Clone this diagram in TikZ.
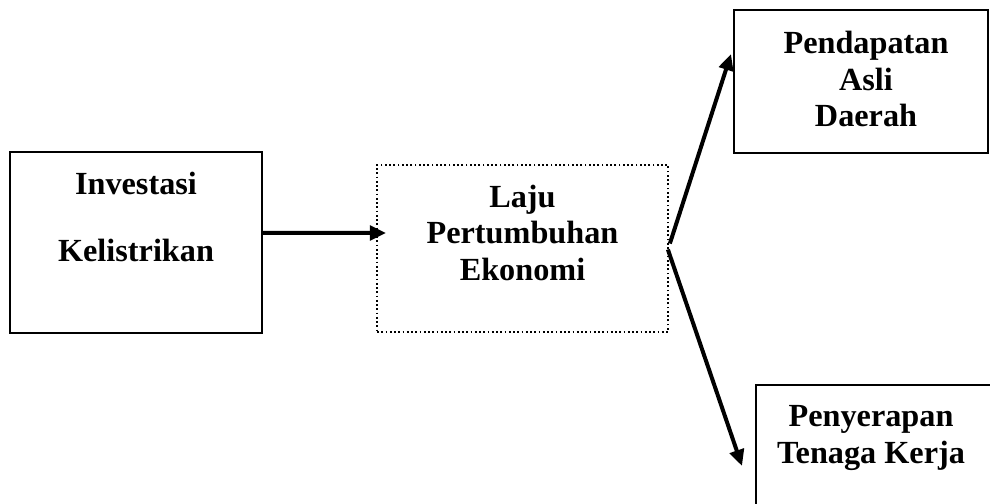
\documentclass[tikz,border=0pt]{standalone}
\usepackage{fontspec}
\setmainfont{Liberation Serif}
\usepackage{tikz}
\usetikzlibrary{positioning}
\usetikzlibrary{calc}
\usetikzlibrary{arrows.meta}
\tikzset{
    solid box/.style = {draw, line width=0.8pt, inner sep=0},
    dotted box/.style = {draw, densely dotted, line width=0.7pt, inner sep=0},
    box text/.style = {align=center, inner sep=0, font=\fontsize{12.9}{14.6}\selectfont\bfseries},
    thick arrow/.style = {line width=1.6pt, -{Triangle[length=6.5pt,width=5.8pt]}}
}
\begin{document}
\begin{tikzpicture}[x=0.4pt,y=-0.4pt]
    \useasboundingbox (0,0) rectangle (990,504);
    \clip (0,0) rectangle (990,504);
    % boxes
    \node(inv)[solid box, minimum width=100.8pt, minimum height=72.4pt] at (136,242.5) {};
    \node(laju)[dotted box, minimum width=116.4pt, minimum height=66.8pt] at (522.5,248.5) {};
    \node(pad)[solid box, minimum width=101.6pt, minimum height=57.2pt] at (861,81.5) {};
    \node(pen)[solid box, minimum width=97.6pt, minimum height=54pt] at (878,452.5) {};
    % texts
    \node(invtext)[box text, below=8.2pt of inv.north] {Investasi\\[12.2pt]Kelistrikan};
    \node(lajutext)[box text, below=8.2pt of laju.north] {Laju\\Pertumbuhan\\Ekonomi};
    \node(padtext)[box text, below=8.8pt of pad.north, xshift=2pt] {Pendapatan\\Asli\\Daerah};
    \node(pentext)[box text, below=8.4pt of pen.north, xshift=-2.8pt] {Penyerapan\\Tenaga Kerja};
    % arrows
    \coordinate(fork) at (laju.east);
    \draw[thick arrow] ([yshift=3.8pt]inv.east) -- ([xshift=4pt,yshift=6.2pt]laju.west);
    \draw[thick arrow] ($(fork)+(1,-5)$) -- ($(pad.north west)+(-2,45)$);
    \draw[thick arrow] ($(fork)+(-1,1)$) -- ($(pen.north west)+(-13,82)$);
\end{tikzpicture}
\end{document}
